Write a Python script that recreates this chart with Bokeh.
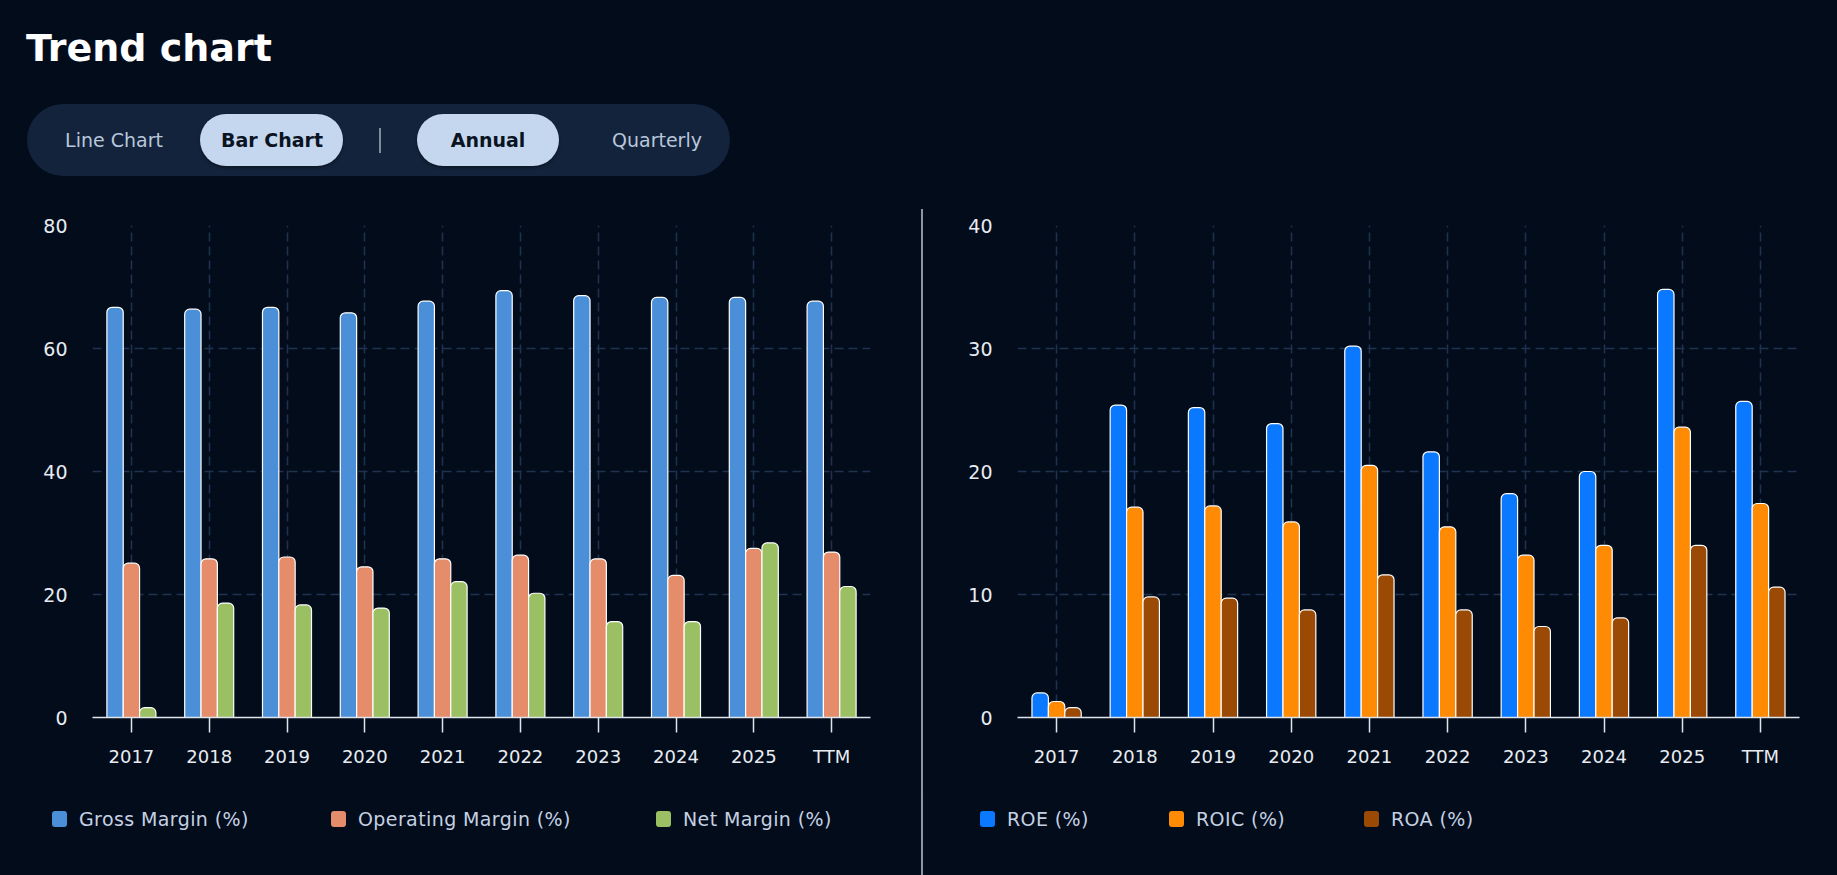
from bokeh.plotting import figure
from bokeh.models import (ColumnDataSource, FactorRange, Range1d, FixedTicker, Div,
                          GlobalInlineStyleSheet)
from bokeh.layouts import column, row
from bokeh.transform import dodge
from bokeh.embed import file_html
from bokeh.resources import INLINE

# ---------------- data ----------------
title_text = "Trend chart"
toggle_labels = ["Line Chart", "Bar Chart", "Annual", "Quarterly"]
categories = ["2017", "2018", "2019", "2020", "2021", "2022", "2023", "2024", "2025", "TTM"]

margin_names = ["Gross Margin (%)", "Operating Margin (%)", "Net Margin (%)"]
gross_margin = [66.7, 66.4, 66.7, 65.8, 67.7, 69.4, 68.6, 68.3, 68.3, 67.7]
operating_margin = [25.1, 25.8, 26.1, 24.5, 25.8, 26.4, 25.8, 23.1, 27.5, 26.9]
net_margin = [1.6, 18.6, 18.3, 17.8, 22.1, 20.2, 15.6, 15.6, 28.4, 21.3]
margin_ticks = [0, 20, 40, 60, 80]

return_names = ["ROE (%)", "ROIC (%)", "ROA (%)"]
roe = [2.0, 25.4, 25.2, 23.9, 30.2, 21.6, 18.2, 20.0, 34.8, 25.7]
roic = [1.3, 17.1, 17.2, 15.9, 20.5, 15.5, 13.2, 14.0, 23.6, 17.4]
roa = [0.8, 9.8, 9.7, 8.75, 11.6, 8.75, 7.4, 8.1, 14.0, 10.6]
return_ticks = [0, 10, 20, 30, 40]

# ---------------- style ----------------
BG = "#020c1b"
FONT = "DejaVu Sans"
GRID = "#203250"
AXIS = "#dfe4ea"
TICK_TEXT = "#e8ecf2"
LEGEND_TEXT = "#c5d1e2"
margin_colors = ["#4a8fd8", "#e58c6b", "#9bbf63"]
return_colors = ["#0a78ff", "#ff8b05", "#9a4a05"]

HEADER_H = 190
CHART_H = 600
LEG_H = 85
BAR_W = 0.21


def make_chart(width, b_left, b_right, y_end, ticks, series, colors):
    data = dict(cat=categories)
    keys = []
    for i, s in enumerate(series):
        k = "s%d" % i
        data[k] = s
        keys.append(k)
    src = ColumnDataSource(data)
    p = figure(x_range=FactorRange(*categories), y_range=Range1d(0, y_end),
               width=width, height=CHART_H, output_backend="svg", toolbar_location=None,
               min_border_left=b_left, min_border_right=b_right,
               min_border_top=35, min_border_bottom=CHART_H - 35 - 492,
               background_fill_color=BG, border_fill_color=BG, outline_line_color=None)
    offsets = [-BAR_W, 0.0, BAR_W]
    for k, off, c in zip(keys, offsets, colors):
        p.vbar(x=dodge("cat", off, range=p.x_range), top=k, width=BAR_W, source=src,
               fill_color=c, line_color="#ffffff", line_width=1.2,
               border_radius=(5, 5, 0, 0))

    p.xgrid.grid_line_color = GRID
    p.xgrid.grid_line_dash = "9 5"
    p.xgrid.grid_line_width = 1.5
    p.ygrid.grid_line_color = GRID
    p.ygrid.grid_line_dash = "9 5"
    p.ygrid.grid_line_width = 1.5

    p.yaxis.ticker = FixedTicker(ticks=ticks)
    p.yaxis.axis_line_color = None
    p.yaxis.major_tick_line_color = None
    p.yaxis.minor_tick_line_color = None
    p.yaxis.major_tick_out = 0
    p.yaxis.major_tick_in = 0
    p.yaxis.major_label_standoff = 25
    p.yaxis.major_label_text_font = FONT
    p.yaxis.major_label_text_font_size = "19px"
    p.yaxis.major_label_text_color = TICK_TEXT

    p.xaxis.axis_line_color = AXIS
    p.xaxis.axis_line_width = 1.5
    p.xaxis.major_tick_line_color = AXIS
    p.xaxis.major_tick_line_width = 1.5
    p.xaxis.major_tick_out = 15
    p.xaxis.major_tick_in = 0
    p.xaxis.major_label_standoff = 13
    p.xaxis.major_label_text_font = FONT
    p.xaxis.major_label_text_font_size = "18px"
    p.xaxis.major_label_text_color = TICK_TEXT
    return p


def make_legend(width, names, colors, swatch_x):
    parts = ['<div style="position:relative;width:%dpx;height:%dpx;'
             'font-family:\'DejaVu Sans\';">' % (width, LEG_H)]
    for name, c, sx in zip(names, colors, swatch_x):
        parts.append('<div style="position:absolute;left:%dpx;top:21px;width:15px;height:16px;'
                     'border-radius:3px;background:%s;"></div>' % (sx, c))
        parts.append('<div style="position:absolute;left:%dpx;top:17px;height:24px;'
                     'line-height:24px;font-size:19px;letter-spacing:0.4px;color:%s;'
                     'white-space:nowrap;">%s</div>' % (sx + 27, LEGEND_TEXT, name))
    parts.append('</div>')
    return Div(text="".join(parts), width=width, height=LEG_H, margin=0)


left = make_chart(921, 92, 51, margin_ticks[-1], margin_ticks,
                  [gross_margin, operating_margin, net_margin], margin_colors)
left_leg = make_legend(921, margin_names, margin_colors, [52, 331, 656])
right = make_chart(914, 94, 38, return_ticks[-1], return_ticks,
                   [roe, roic, roa], return_colors)
right_leg = make_legend(914, return_names, return_colors, [57, 246, 441])

# ---------------- header (title + toggles) ----------------
def label(text, cx, active):
    color = "#0a1322" if active else "#b9c7db"
    weight = "bold" if active else "normal"
    return ('<div style="position:absolute;left:%dpx;top:128px;width:180px;height:24px;'
            'line-height:24px;text-align:center;font-size:19px;color:%s;font-weight:%s;'
            'white-space:nowrap;">%s</div>' % (cx - 90, color, weight, text))

header_html = (
    '<div style="position:relative;width:1837px;height:190px;font-family:\'DejaVu Sans\';">'
    '<div style="position:absolute;left:26px;top:29px;font-size:38px;line-height:38px;'
    'font-weight:bold;color:#ffffff;white-space:nowrap;">%s</div>' % title_text +
    '<div style="position:absolute;left:27px;top:104px;width:703px;height:72px;'
    'border-radius:36px;background:#13233b;"></div>'
    '<div style="position:absolute;left:200px;top:114px;width:143px;height:52px;'
    'border-radius:26px;background:#c4d7ee;box-shadow:0 2px 3px rgba(0,0,0,0.35);"></div>'
    '<div style="position:absolute;left:417px;top:114px;width:142px;height:52px;'
    'border-radius:26px;background:#c4d7ee;box-shadow:0 2px 3px rgba(0,0,0,0.35);"></div>'
    '<div style="position:absolute;left:379px;top:128px;width:1.5px;height:25px;'
    'background:#7f8a9a;"></div>'
    + label(toggle_labels[0], 114, False)
    + label(toggle_labels[1], 272, True)
    + label(toggle_labels[2], 488, True)
    + label(toggle_labels[3], 657, False)
    + '</div>'
)
header = Div(text=header_html, width=1837, height=HEADER_H, margin=0)

FIG_H = CHART_H + LEG_H
divider = Div(text='<div style="position:relative;width:2px;height:%dpx;">'
                   '<div style="position:absolute;left:0;top:19px;width:1.5px;height:%dpx;'
                   'background:#8c95a3;"></div></div>' % (FIG_H, FIG_H - 19),
              width=2, height=FIG_H, margin=0)

layout = column(header,
                row(column(left, left_leg, spacing=0), divider,
                    column(right, right_leg, spacing=0), spacing=0),
                spacing=0)
layout.stylesheets = [GlobalInlineStyleSheet(
    css="html, body { margin: 0; padding: 0; background-color: #020c1b; overflow: hidden; }")]

open("out.html", "w").write(file_html(layout, INLINE))
